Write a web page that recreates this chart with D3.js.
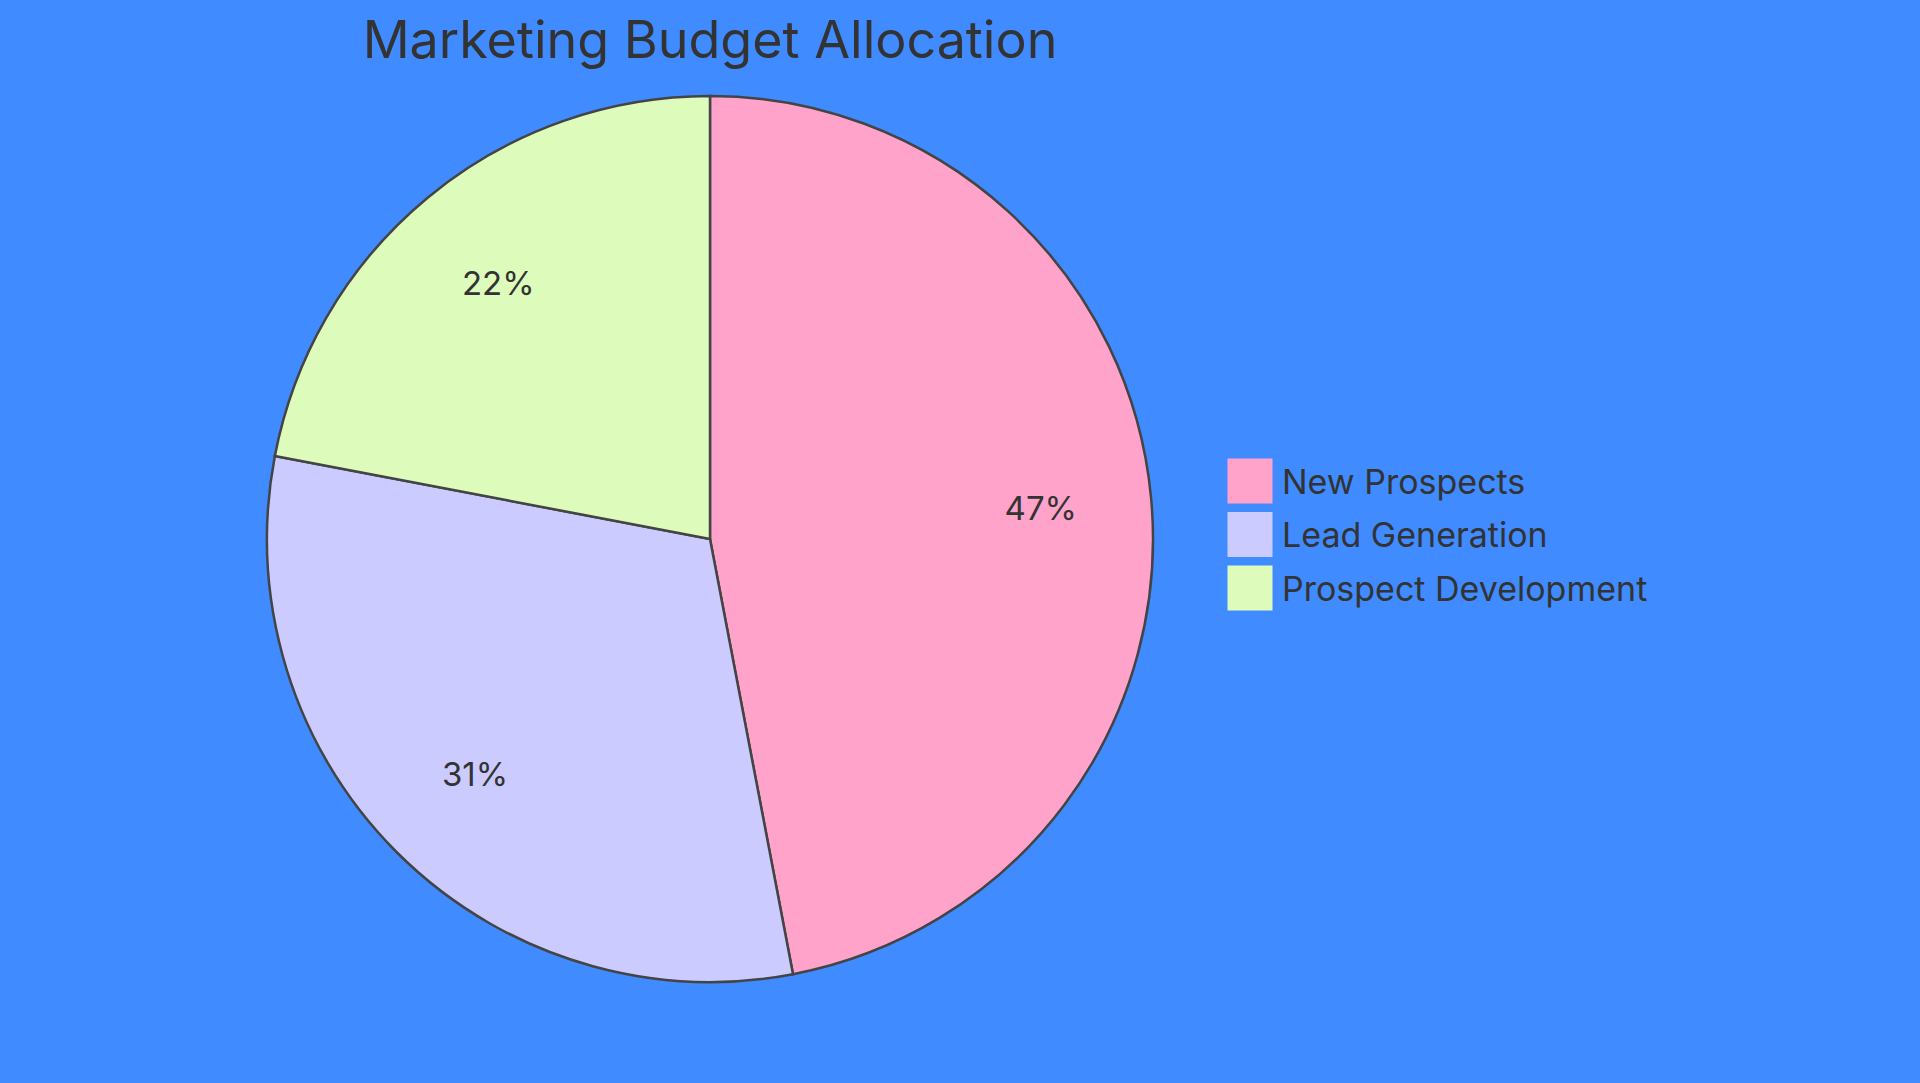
<!DOCTYPE html>
<html>
<head>
<meta charset="utf-8">
<script src="https://cdn.jsdelivr.net/npm/d3@7.9.0/dist/d3.min.js"></script>
<style>
  html, body { margin: 0; padding: 0; background: #3f8bff; }
  text { font-family: Inter, "Open Sans", sans-serif; fill: #333; }
</style>
</head>
<body>
<svg id="chart" width="1920" height="1083"></svg>
<script>
const labels = ['New Prospects', 'Lead Generation', 'Prospect Development'];
const values = [47, 31, 22];
const colors = ['#ffa3cb', '#cbcbff', '#ddfcbc'];

const svg = d3.select('#chart');
const cx = 710, cy = 539, radius = 443;

svg.append('text')
  .attr('x', cx).attr('y', 58)
  .attr('text-anchor', 'middle')
  .attr('font-size', 52)
  .text('Marketing Budget Allocation');

const pie = d3.pie().sort(null).value(d => d)(values);
const arc = d3.arc().innerRadius(0).outerRadius(radius);
const labelArc = d3.arc().innerRadius(radius * 0.75).outerRadius(radius * 0.75);
const total = d3.sum(values);

const g = svg.append('g').attr('transform', `translate(${cx},${cy})`);

g.selectAll('path')
  .data(pie)
  .join('path')
  .attr('d', arc)
  .attr('fill', (d, i) => colors[i])
  .attr('stroke', '#444')
  .attr('stroke-width', 2.5);

g.selectAll('text.pct')
  .data(pie)
  .join('text')
  .attr('class', 'pct')
  .attr('transform', d => `translate(${labelArc.centroid(d)})`)
  .attr('text-anchor', 'middle')
  .attr('dominant-baseline', 'central')
  .attr('font-size', 33)
  .text(d => Math.round(d.data / total * 100) + '%');

// legend
const legend = svg.append('g').attr('transform', 'translate(1228,459)');
const row = legend.selectAll('g')
  .data(labels)
  .join('g')
  .attr('transform', (d, i) => `translate(0,${i * 53.5})`);

row.append('rect')
  .attr('width', 44).attr('height', 44)
  .attr('fill', (d, i) => colors[i])
  .attr('stroke', (d, i) => colors[i]);

row.append('text')
  .attr('x', 54).attr('y', 22)
  .attr('dominant-baseline', 'central')
  .attr('font-size', 34)
  .text(d => d);
</script>
</body>
</html>
